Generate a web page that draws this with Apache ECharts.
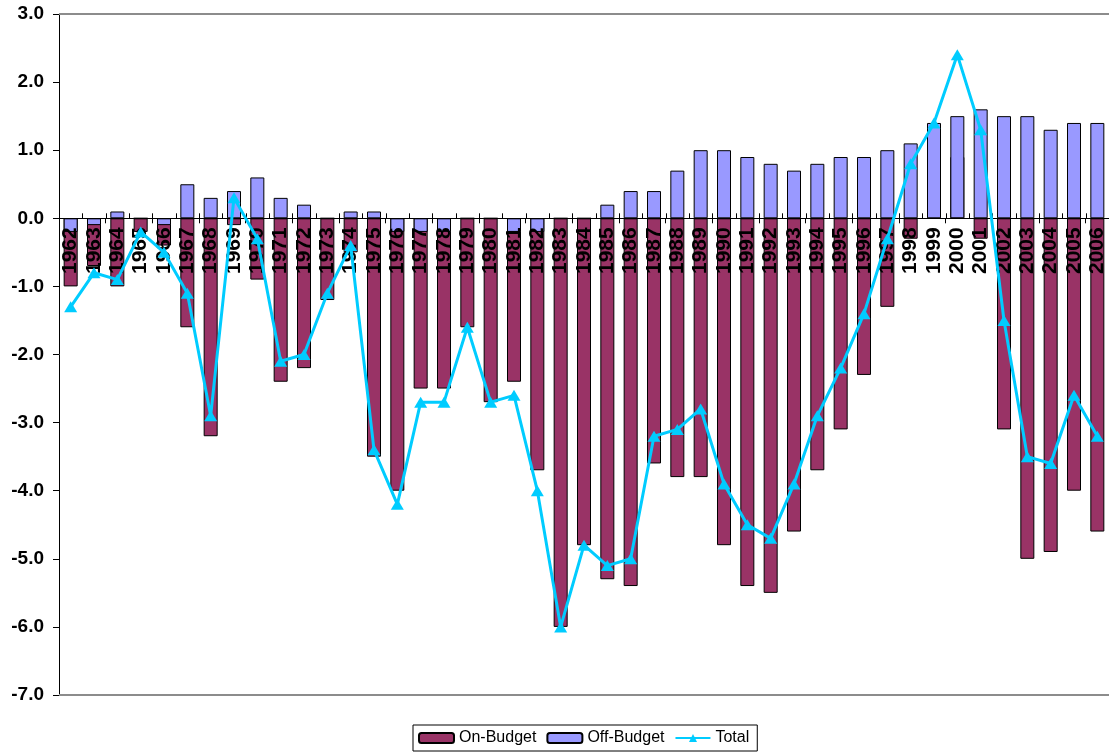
<!DOCTYPE html>
<html>
<head>
<meta charset="utf-8">
<script src="https://cdn.jsdelivr.net/npm/echarts@6/dist/echarts.min.js"></script>
<style>
  html, body { margin: 0; padding: 0; background: #ffffff; }
  #chart { width: 1109px; height: 754px; }
</style>
</head>
<body>
<div id="chart"></div>
<script>
// Fiscal years on the category axis
const years = [
  '1962','1963','1964','1965','1966','1967','1968','1969','1970','1971',
  '1972','1973','1974','1975','1976','1977','1978','1979','1980','1981',
  '1982','1983','1984','1985','1986','1987','1988','1989','1990','1991',
  '1992','1993','1994','1995','1996','1997','1998','1999','2000','2001',
  '2002','2003','2004','2005','2006'
];

// Surplus (+) / deficit (-) components
const onBudget = [
  -1.0, -0.7, -1.0, -0.2, -0.4, -1.6, -3.2, -0.1, -0.9, -2.4,
  -2.2, -1.2, -0.5, -3.5, -4.0, -2.5, -2.5, -1.6, -2.7, -2.4,
  -3.7, -6.0, -4.8, -5.3, -5.4, -3.6, -3.8, -3.8, -4.8, -5.4,
  -5.5, -4.6, -3.7, -3.1, -2.3, -1.3, -0.3, 0.0, 0.9, -0.3,
  -3.1, -5.0, -4.9, -4.0, -4.6
];
const offBudget = [
  -0.2, -0.1, 0.1, 0.0, -0.1, 0.5, 0.3, 0.4, 0.6, 0.3,
  0.2, 0.0, 0.1, 0.1, -0.2, -0.2, -0.2, 0.0, 0.0, -0.2,
  -0.2, 0.0, 0.0, 0.2, 0.4, 0.4, 0.7, 1.0, 1.0, 0.9,
  0.8, 0.7, 0.8, 0.9, 0.9, 1.0, 1.1, 1.4, 1.5, 1.6,
  1.5, 1.5, 1.3, 1.4, 1.4
];
const total = [
  -1.3, -0.8, -0.9, -0.2, -0.5, -1.1, -2.9, 0.3, -0.3, -2.1,
  -2.0, -1.1, -0.4, -3.4, -4.2, -2.7, -2.7, -1.6, -2.7, -2.6,
  -4.0, -6.0, -4.8, -5.1, -5.0, -3.2, -3.1, -2.8, -3.9, -4.5,
  -4.7, -3.9, -2.9, -2.2, -1.4, -0.3, 0.8, 1.4, 2.4, 1.3,
  -1.5, -3.5, -3.6, -2.6, -3.2
];

// Value axis range
const yMin = -7;
const yMax = 3;
const yStep = 1;

const FONT = "'Liberation Sans', Arial, sans-serif";

const chart = echarts.init(document.getElementById('chart'), null, { renderer: 'canvas' });

// Year labels hang just below the zero line, drawn over the bars;
// each item also adds the upper half of the category tick on the zero line
function renderYearLabel(params, api) {
  const idx = api.value(0);
  const p = api.coord([idx, 0]);
  const half = api.size([1, 0])[0] / 2;
  const tickX = Math.round(p[0] - half) + 0.5;
  return {
    type: 'group',
    children: [
      {
        type: 'line',
        shape: { x1: tickX, y1: p[1] - 5, x2: tickX, y2: p[1] },
        style: { stroke: '#000000', lineWidth: 1 }
      },
      {
        type: 'text',
        x: p[0],
        y: p[1] + 9,
        rotation: Math.PI / 2,
        style: {
          text: years[idx],
          align: 'right',
          verticalAlign: 'middle',
          font: 'bold 21px ' + FONT,
          fill: '#000000'
        }
      }
    ]
  };
}

chart.setOption({
  animation: false,
  backgroundColor: '#ffffff',
  grid: { left: 59, right: -8, top: 14, bottom: 59, containLabel: false },
  legend: {
    data: ['On-Budget', 'Off-Budget', 'Total'],
    left: 413,
    top: 725,
    orient: 'horizontal',
    padding: [5, 8, 5, 5],
    itemGap: 10,
    itemWidth: 35,
    itemHeight: 10,
    borderColor: '#000000',
    borderWidth: 1,
    backgroundColor: '#ffffff',
    textStyle: { fontFamily: FONT, fontSize: 16, color: '#000000' }
  },
  xAxis: {
    type: 'category',
    data: years,
    position: 'bottom',
    z: 3,
    axisLine: { onZero: true, lineStyle: { color: '#000000', width: 1 } },
    axisTick: { show: true, length: 5, lineStyle: { color: '#000000' } },
    axisLabel: { show: false }
  },
  yAxis: {
    type: 'value',
    min: yMin,
    max: yMax,
    interval: yStep,
    position: 'left',
    splitLine: { show: false },
    axisLine: { show: true, onZero: false, lineStyle: { color: '#000000', width: 1 } },
    axisTick: { show: true, length: 6, lineStyle: { color: '#000000' } },
    axisLabel: {
      margin: 15,
      fontFamily: FONT,
      fontWeight: 'bold',
      fontSize: 19,
      color: '#000000',
      formatter: v => v.toFixed(1)
    }
  },
  series: [
    {
      name: 'On-Budget',
      type: 'bar',
      data: onBudget,
      barWidth: 14,
      barGap: '-100%',
      z: 2,
      itemStyle: { color: '#993366', borderColor: '#000000', borderWidth: 1 },
      markLine: {
        silent: true,
        symbol: 'none',
        label: { show: false },
        lineStyle: { color: '#8c8c8c', width: 2, type: 'solid' },
        data: [{ yAxis: yMax }, { yAxis: yMin }]
      }
    },
    {
      name: 'Off-Budget',
      type: 'bar',
      data: offBudget,
      barWidth: 14,
      barGap: '-100%',
      z: 2,
      itemStyle: { color: '#9999ff', borderColor: '#000000', borderWidth: 1 }
    },
    {
      name: 'Years',
      type: 'custom',
      data: years.map((y, i) => [i]),
      encode: { x: 0 },
      renderItem: renderYearLabel,
      silent: true,
      clip: false,
      z: 3
    },
    {
      name: 'Total',
      type: 'line',
      data: total,
      z: 5,
      symbol: 'triangle',
      symbolSize: [13, 11],
      showAllSymbol: true,
      lineStyle: { color: '#00ccff', width: 3 },
      itemStyle: { color: '#00ccff' }
    }
  ]
});
</script>
</body>
</html>
